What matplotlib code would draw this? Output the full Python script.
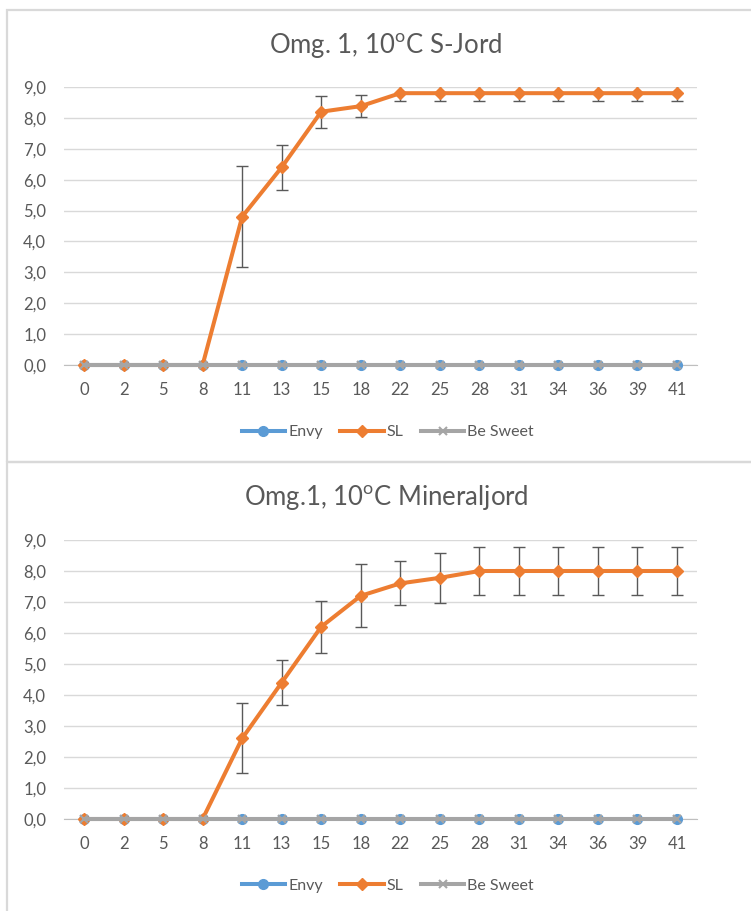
import matplotlib.pyplot as plt
import numpy as np
from matplotlib.patches import Rectangle
from matplotlib.lines import Line2D

plt.rcParams['font.family'] = ['Lato', 'DejaVu Sans']

# days after sowing (x categories)
days = ['0', '2', '5', '8', '11', '13', '15', '18', '22', '25', '28', '31', '34', '36', '39', '41']

# Omg. 1, S-Jord
envy_top = [0.0] * 16
sl_top = [0.0, 0.0, 0.0, 0.0, 4.8, 6.4, 8.2, 8.38, 8.8, 8.8, 8.8, 8.8, 8.8, 8.8, 8.8, 8.8]
sl_top_err = [0.0, 0.0, 0.0, 0.0, 1.63, 0.73, 0.52, 0.35, 0.26, 0.26, 0.26, 0.26, 0.26, 0.26, 0.26, 0.26]
besweet_top = [0.0] * 16

# Omg. 1, Mineraljord
envy_bot = [0.0] * 16
sl_bot = [0.0, 0.0, 0.0, 0.0, 2.6, 4.4, 6.2, 7.2, 7.6, 7.78, 8.0, 8.0, 8.0, 8.0, 8.0, 8.0]
sl_bot_err = [0.0, 0.0, 0.0, 0.0, 1.13, 0.73, 0.83, 1.02, 0.71, 0.8, 0.78, 0.78, 0.78, 0.78, 0.78, 0.78]
besweet_bot = [0.0] * 16

titles = [r'Omg. 1, 10$^{\mathregular{o}}$C S-Jord', r'Omg.1, 10$^{\mathregular{o}}$C Mineraljord']

BLUE = '#5B9BD5'
ORANGE = '#ED7D31'
GREY = '#A5A5A5'
TXT = '#595959'

W, H = 751, 911
fig = plt.figure(figsize=(W / 100, H / 100), dpi=100)


def px(x0, y0, x1, y1):
    # pixel box (top-left origin) -> figure fraction rect
    return [x0 / W, 1 - y1 / H, (x1 - x0) / W, (y1 - y0) / H]


# panel frames
for (y0, y1) in [(10, 462), (462, 920)]:
    r = px(7, y0, 760, y1)
    fig.add_artist(Rectangle((r[0], r[1]), r[2], r[3], transform=fig.transFigure,
                             fill=False, edgecolor='#D9D9D9', linewidth=1.6))


def trace(ax, envy, sl, err, besweet, title, title_y, legend_y):
    x = np.arange(len(days))
    l1, = ax.plot(x, envy, color=BLUE, lw=2.9, marker='o', ms=7, zorder=3, label='Envy')
    eb = ax.errorbar(x, sl, yerr=err, color=ORANGE, lw=2.9, marker='D', ms=6.5,
                     ecolor='#595959', elinewidth=1.0, capsize=4, capthick=1.0,
                     zorder=4, label='SL')
    l3, = ax.plot(x, besweet, color=GREY, lw=2.9, marker='x', ms=6, mew=1.5, zorder=5,
                  label='Be Sweet')
    # markers on the 0-line must not be cut, error bars are cut at 9,0
    for ln in [l1, eb.lines[0], l3]:
        ln.set_clip_on(False)
    ax.set_xlim(-0.5, len(days) - 0.5)
    ax.set_ylim(0, 9)
    ax.set_yticks(np.arange(0, 9.5, 1.0))
    ax.yaxis.set_major_formatter(plt.FuncFormatter(lambda v, p: ('%.1f' % v).replace('.', ',')))
    ax.set_xticks(x)
    ax.set_xticklabels(days)
    ax.tick_params(axis='both', length=0, labelsize=12, colors=TXT)
    ax.tick_params(axis='y', pad=13)
    ax.tick_params(axis='x', pad=12)
    ax.grid(axis='y', color='#D9D9D9', lw=1.0)
    ax.set_axisbelow(True)
    for s in ['top', 'right', 'left']:
        ax.spines[s].set_visible(False)
    ax.spines['bottom'].set_color('#BFBFBF')
    fig.text(386 / W, 1 - title_y / H, title, ha='center', va='center',
             fontsize=18.5, color=TXT)
    handles = [Line2D([], [], color=BLUE, lw=2.9, marker='o', ms=7),
               Line2D([], [], color=ORANGE, lw=2.9, marker='D', ms=6.5),
               Line2D([], [], color=GREY, lw=2.9, marker='x', ms=6, mew=1.5)]
    fig.legend(handles, ['Envy', 'SL', 'Be Sweet'], loc='center',
               bbox_to_anchor=(388 / W, 1 - legend_y / H), ncol=3, frameon=False,
               fontsize=11.5, labelcolor=TXT, handlelength=2.7, handletextpad=0.2,
               columnspacing=1.1)


ax1 = fig.add_axes(px(64.25, 87, 696.75, 365))
trace(ax1, envy_top, sl_top, sl_top_err, besweet_top, titles[0], 46, 432)

ax2 = fig.add_axes(px(64.25, 540, 696.75, 819))
trace(ax2, envy_bot, sl_bot, sl_bot_err, besweet_bot, titles[1], 498, 886)

fig.savefig('out.png', dpi=100)
